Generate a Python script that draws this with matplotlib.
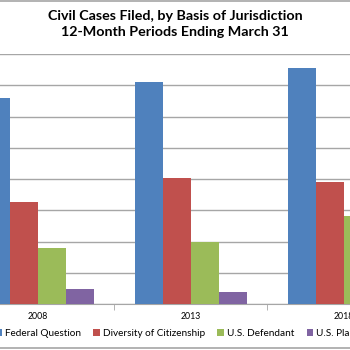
import matplotlib
matplotlib.use("Agg")
import matplotlib.pyplot as plt
import numpy as np

plt.rcParams['font.family'] = ['Lato', 'DejaVu Sans']

# data (cases filed, 12-month periods ending March 31)
years = ['2008', '2013', '2018']
series = ['Federal Question', 'Diversity of Citizenship', 'U.S. Defendant', 'U.S. Plaintiff']
federal_question = [132000, 142300, 150800]
diversity = [65400, 80400, 77900]
us_defendant = [35600, 39500, 56300]
us_plaintiff = [9400, 7900, 6500]
colors = ['#4F81BD', '#C0504D', '#9BBB59', '#8064A2']

fig = plt.figure(figsize=(3.5, 3.5), dpi=100)
# plot area is wider than the picture (reference is a crop of a wider chart)
ax = fig.add_axes([-0.11, 0.1314, 1.311, 0.7143])

x = np.arange(len(years))
bw = 0.183
values = [federal_question, diversity, us_defendant, us_plaintiff]
bars = []
for i, (name, vals) in enumerate(zip(series, values)):
    b = ax.bar(x + (i - 1.5) * bw, vals, bw, color=colors[i], label=name, zorder=3)
    bars.append(b)

ax.set_xlim(-0.5, 2.5)
ax.set_ylim(0, 160000)
ax.set_yticks(np.arange(0, 160001, 20000))
ax.yaxis.grid(True, color='#A6A6A6', linewidth=1.0, zorder=0)
ax.tick_params(axis='y', left=False, labelleft=False)

ax.set_xticks(x)
ax.set_xticklabels(years, fontsize=6.3)
ax.set_xticks([0.5, 1.5], minor=True)
ax.tick_params(axis='x', which='major', length=0, pad=6)
ax.tick_params(axis='x', which='minor', length=4, color='#A6A6A6', direction='out')

for s in ['top', 'left', 'right']:
    ax.spines[s].set_visible(False)
ax.spines['bottom'].set_color('#A6A6A6')

fig.suptitle('Civil Cases Filed, by Basis of Jurisdiction\n12-Month Periods Ending March 31',
             y=0.972, fontsize=10.3, fontweight='bold', linespacing=1.45)

fig.legend(handles=bars, loc='center', bbox_to_anchor=(0.523, 0.048), ncol=4, frameon=False,
           fontsize=7.2, handlelength=0.65, handleheight=0.65, handletextpad=0.3,
           columnspacing=1.25)

# chart frame lines at top and bottom
fig.add_artist(plt.Line2D([0, 1], [0.996, 0.996], color='#A6A6A6', linewidth=1.2))
fig.add_artist(plt.Line2D([0, 1], [0.006, 0.006], color='#A6A6A6', linewidth=1.2))

fig.savefig('out.png', dpi=100)
